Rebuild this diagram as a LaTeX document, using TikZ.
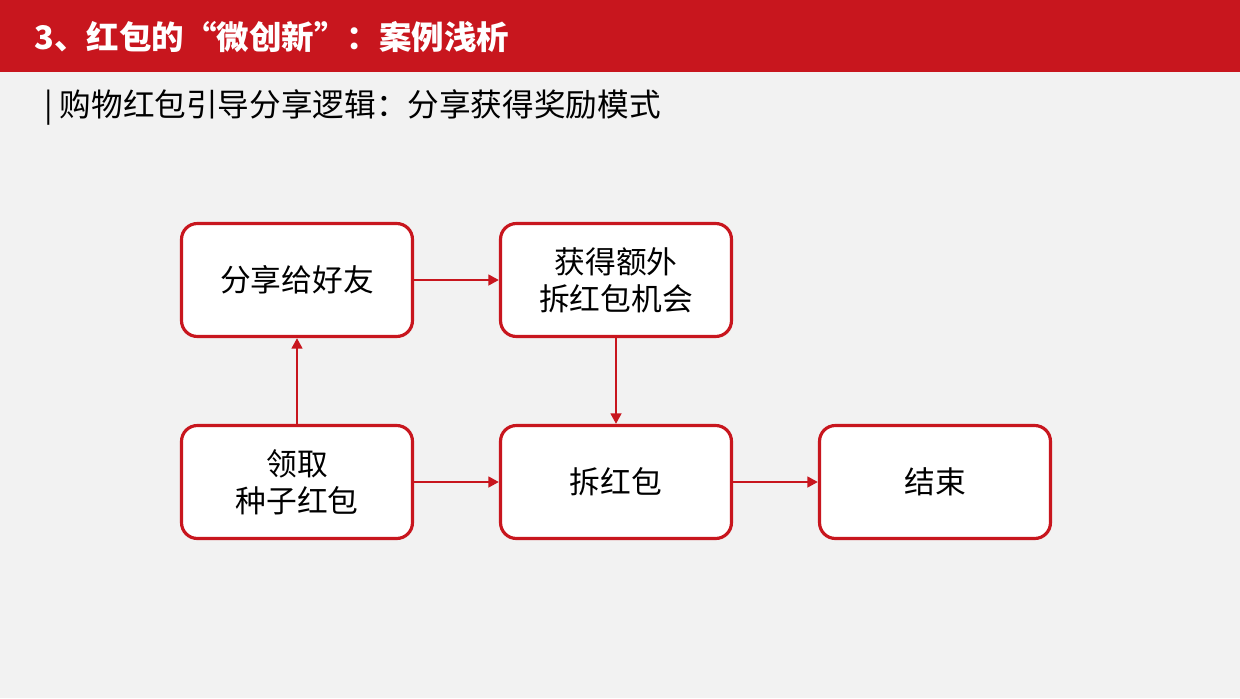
\documentclass[tikz,border=0pt]{standalone}
\usepackage{fontspec}
\setmainfont{Noto Sans CJK SC}
\usetikzlibrary{positioning,arrows.meta}
\definecolor{hongse}{HTML}{C8161E}
\definecolor{beijing}{HTML}{F2F2F2}
\tikzset{
	kuang/.style={draw=hongse, line width=1.8pt, rounded corners=9pt, fill=white,
		minimum width=4.62cm, minimum height=2.26cm, align=center,
		font=\fontsize{17.5pt}{21pt}\selectfont},
	jiantou/.style={draw=hongse, line width=1.5pt, -{Triangle[length=6pt,width=6pt]}}
}
\begin{document}
\begin{tikzpicture}[x=0.02cm, y=0.02cm]
	% Hintergrund und Kopfzeile
	\fill[beijing] (0,0) rectangle (1240,698);
	\useasboundingbox (0,0) rectangle (1240,698);
	\fill[hongse] (0,626) rectangle (1240,698);
	\node[anchor=west, text=white, font=\fontsize{18.5pt}{22pt}\selectfont\bfseries] (biaoti) at (28,661) {3、红包的“微创新”：案例浅析};
	\node[anchor=west, font=\fontsize{18pt}{21pt}\selectfont] (fubiaoti) at (38,590) {| 购物红包引导分享逻辑：分享获得奖励模式};
	% Kaesten
	\node[kuang] (fenxiang) at (297,418) {分享给好友};
	\node[kuang] (huode) at (616,418) {获得额外\\拆红包机会};
	\node[kuang] (lingqu) at (297,216) {领取\\种子红包};
	\node[kuang] (chai) at (616,216) {拆红包};
	\node[kuang] (jieshu) at (935,216) {结束};
	% Pfeile
	\draw[jiantou] (fenxiang) -- (huode);
	\draw[jiantou] (huode) -- (chai);
	\draw[jiantou] (lingqu) -- (fenxiang);
	\draw[jiantou] (lingqu) -- (chai);
	\draw[jiantou] (chai) -- (jieshu);
\end{tikzpicture}
\end{document}
